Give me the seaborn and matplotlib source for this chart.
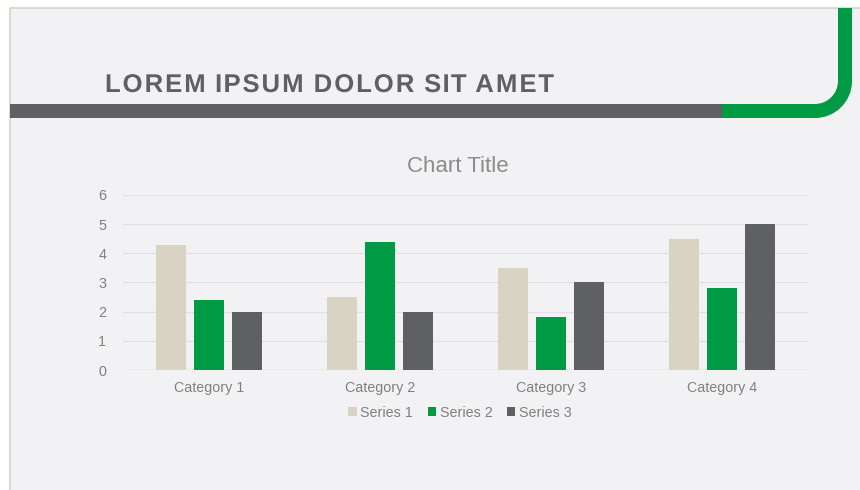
import matplotlib
matplotlib.use("Agg")
import numpy as np
import matplotlib.pyplot as plt
import seaborn as sns
import pandas as pd
from matplotlib.path import Path
from matplotlib.patches import PathPatch, Rectangle, Patch
from matplotlib.patheffects import AbstractPathEffect
from matplotlib.transforms import IdentityTransform

categories = ["Category 1", "Category 2", "Category 3", "Category 4"]
series_names = ["Series 1", "Series 2", "Series 3"]
series1 = [4.3, 2.5, 3.5, 4.5]
series2 = [2.4, 4.4, 1.8, 2.8]
series3 = [2, 2, 3, 5]
yticks = [0, 1, 2, 3, 4, 5, 6]
colors = ["#d9d3c3", "#009a44", "#5f6062"]


class Tracking(AbstractPathEffect):
    """Spread glyph contours apart so the text spans a target pixel width."""

    def __init__(self, target_px):
        super().__init__()
        self.target_px = target_px

    def draw_path(self, renderer, gc, tpath, affine, rgbFace=None):
        verts = affine.transform(tpath.vertices).copy()
        codes = tpath.codes
        if codes is None:
            renderer.draw_path(gc, tpath, affine, rgbFace)
            return
        starts = list(np.where(codes == Path.MOVETO)[0]) + [len(codes)]
        valid = codes != Path.CLOSEPOLY
        segs = []
        for s, e in zip(starts[:-1], starts[1:]):
            m = valid[s:e]
            xs = verts[s:e, 0][m]
            if len(xs) == 0:
                continue
            segs.append((s, e, 0.5 * (xs.min() + xs.max())))
        allx = verts[valid, 0]
        width = allx.max() - allx.min()
        cs = [c for _, _, c in segs]
        cmin, cmax = min(cs), max(cs)
        scale = renderer.points_to_pixels(1.0) / (100 / 72)
        k = (self.target_px * scale - width) / max(cmax - cmin, 1e-9)
        for s, e, c in segs:
            verts[s:e, 0] += k * (c - cmin)
        renderer.draw_path(gc, Path(verts, codes), IdentityTransform(), rgbFace)


sns.set_theme(style="white")
plt.rcParams['font.family'] = ['Liberation Sans', 'DejaVu Sans']

rows = []
for name, vals in zip(series_names, [series1, series2, series3]):
    for c, v in zip(categories, vals):
        rows.append({"Category": c, "Series": name, "Value": v})
df = pd.DataFrame(rows)

W, H = 860, 490
fig = plt.figure(figsize=(8.6, 4.9), dpi=100, facecolor="white")

# decoration overlay in pixel coordinates
deco = fig.add_axes([0, 0, 1, 1], zorder=0)
deco.set_xlim(0, W)
deco.set_ylim(H, 0)
deco.axis("off")
deco.add_patch(Rectangle((10, 8), 900, 600, facecolor="#f2f2f4",
                         edgecolor="#d9d3c3", linewidth=1.2))
deco.plot([10, 722], [111, 111], color="#5f6062", linewidth=10.1,
          solid_capstyle="butt")
k = 0.552 * 30
verts = [(722, 111), (815, 111), (815 + k, 111), (845, 81 + k), (845, 81), (845, 8)]
codes = [Path.MOVETO, Path.LINETO, Path.CURVE4, Path.CURVE4, Path.CURVE4, Path.LINETO]
deco.add_patch(PathPatch(Path(verts, codes), facecolor="none", edgecolor="#009a44",
                         linewidth=10.1, capstyle="butt", joinstyle="round"))
deco.text(105, 85, "LOREM IPSUM DOLOR SIT AMET", fontsize=18.5, fontweight="bold",
          color="#5f6062", ha="left", va="center",
          path_effects=[Tracking(447)])

# chart
ax = fig.add_axes([123 / W, 1 - 370 / H, (808 - 123) / W, (370 - 195) / H], zorder=1)
ax.set_facecolor("none")
sns.barplot(data=df, x="Category", y="Value", hue="Series", palette=colors,
            width=0.667, gap=0.21, ax=ax, legend=False, saturation=1,
            linewidth=0, edgecolor="none")
ax.set_ylim(0, 6)
ax.set_yticks(yticks)
ax.set_xlabel("")
ax.set_ylabel("")
for s in ax.spines.values():
    s.set_visible(False)
ax.grid(axis="y", color="#e2e2e4", linewidth=0.9)
ax.set_axisbelow(True)
ax.axhline(0, color="#d9d9d9", linewidth=1.0, zorder=0.5)
ax.tick_params(axis="both", length=0, labelsize=10.3, labelcolor="#808080")
ax.tick_params(axis="y", pad=12)
ax.tick_params(axis="x", pad=8)

fig.text(458 / W, 1 - 166 / H, "Chart Title", fontsize=16, color="#8c8c8c",
         ha="center", va="center")

handles = [Patch(facecolor=c, edgecolor="none") for c in colors]
fig.legend(handles, series_names, loc="center", bbox_to_anchor=(460 / W, 1 - 413 / H),
           ncol=3, frameon=False, fontsize=10.3, labelcolor="#808080",
           handlelength=0.6, handleheight=0.6, handletextpad=0.25, columnspacing=1.0)

fig.savefig("out.png", dpi=100, facecolor="white")
